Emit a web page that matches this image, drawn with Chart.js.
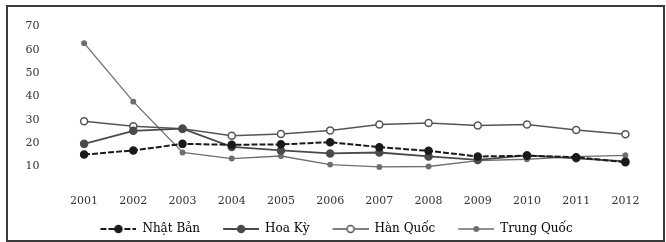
<!DOCTYPE html>
<html><head><meta charset="utf-8">
<script src="https://cdn.jsdelivr.net/npm/chart.js@4/dist/chart.umd.min.js"></script>
<style>
html,body{margin:0;padding:0;background:#fff;}
#wrap{position:relative;width:666px;height:242px;}
#frame{position:absolute;left:6px;top:5px;width:655px;height:233px;border:2px solid #3a3a3a;pointer-events:none;}
canvas{position:absolute;left:0;top:0;}
</style></head>
<body>
<div id="wrap"><canvas id="c" width="666" height="242"></canvas><div id="frame"></div></div>
<script>
const years = ['2001','2002','2003','2004','2005','2006','2007','2008','2009','2010','2011','2012'];
const nhatBan   = [15.1, 16.9, 19.7, 19.3, 19.5, 20.4, 18.3, 16.7, 14.3, 14.6, 14.0, 11.8];
const hoaKy     = [19.7, 25.3, 26.2, 18.4, 16.9, 15.6, 16.0, 14.3, 12.8, 14.8, 13.5, 12.2];
const hanQuoc   = [29.4, 27.3, 26.2, 23.2, 23.9, 25.4, 28.0, 28.7, 27.6, 28.0, 25.6, 23.8];
const trungQuoc = [62.9, 37.8, 16.0, 13.4, 14.5, 10.8,  9.8, 10.0, 12.5, 13.1, 14.2, 14.8];
const yTicks = [10, 20, 30, 40, 50, 60, 70];
const seriesNames = ['Nhật Bản', 'Hoa Kỳ', 'Hàn Quốc', 'Trung Quốc'];

const GAP = 13, LINE = 36;
function legendIcon(color, dash, fill, r, lw) {
  const c = document.createElement('canvas');
  c.width = GAP + LINE; c.height = 10;
  const x = c.getContext('2d');
  x.strokeStyle = color; x.lineWidth = lw;
  x.setLineDash(dash);
  x.beginPath(); x.moveTo(GAP, 5); x.lineTo(GAP + LINE, 5); x.stroke();
  x.setLineDash([]);
  x.beginPath(); x.arc(GAP + LINE / 2, 5, r, 0, Math.PI * 2);
  x.fillStyle = fill; x.fill(); x.lineWidth = 1.5; x.stroke();
  return c;
}

const styles = [
  {color:'#1a1a1a', dash:[6,2], fill:'#1a1a1a', r:3.5, lw:2},
  {color:'#4a4a4a', dash:[], fill:'#4a4a4a', r:3.5, lw:1.8},
  {color:'#555555', dash:[], fill:'#ffffff', r:3.5, lw:1.5},
  {color:'#6e6e6e', dash:[], fill:'#6e6e6e', r:2.2, lw:1.3}
];
const values = [nhatBan, hoaKy, hanQuoc, trungQuoc];

const datasets = values.map((v, i) => ({
  label: seriesNames[i],
  data: v,
  borderColor: styles[i].color,
  backgroundColor: styles[i].fill,
  pointBackgroundColor: styles[i].fill,
  pointBorderColor: styles[i].color,
  pointBorderWidth: 1.5,
  borderWidth: styles[i].lw,
  borderDash: styles[i].dash,
  pointRadius: styles[i].r,
  pointStyle: 'circle',
  legendIcon: legendIcon(styles[i].color, styles[i].dash, styles[i].fill, styles[i].r, styles[i].lw),
  tension: 0
}));

new Chart(document.getElementById('c'), {
  type: 'line',
  data: { labels: years, datasets: datasets },
  options: {
    responsive: false,
    animation: false,
    layout: { padding: { left: 10, right: 16, top: 13, bottom: -3 } },
    plugins: {
      tooltip: { enabled: false },
      legend: {
        position: 'bottom',
        labels: {
          usePointStyle: true,
          pointStyleWidth: GAP + LINE,
          boxWidth: GAP + LINE,
          boxHeight: 10,
          padding: 10,
          color: '#333',
          font: { family: 'DejaVu Serif', size: 12 },
          generateLabels: (chart) => chart.data.datasets.map((d, i) => ({
            text: d.label,
            pointStyle: d.legendIcon,
            fillStyle: d.backgroundColor,
            strokeStyle: d.borderColor,
            lineWidth: 0,
            hidden: false,
            datasetIndex: i
          }))
        }
      }
    },
    scales: {
      x: {
        offset: true,
        grid: { display: false, drawTicks: false },
        border: { display: false },
        ticks: { color: '#333', padding: 5, font: { family: 'DejaVu Serif', size: 11 }, maxRotation: 0 }
      },
      y: {
        min: 0, max: 70,
        grid: { display: false, drawTicks: false },
        border: { display: false },
        afterFit: (s) => { s.width = 49.5; },
        afterBuildTicks: (s) => { s.ticks = yTicks.map(v => ({ value: v })); },
        ticks: { color: '#333', padding: 20, font: { family: 'DejaVu Serif', size: 11 } }
      }
    }
  }
});
</script>
</body></html>
